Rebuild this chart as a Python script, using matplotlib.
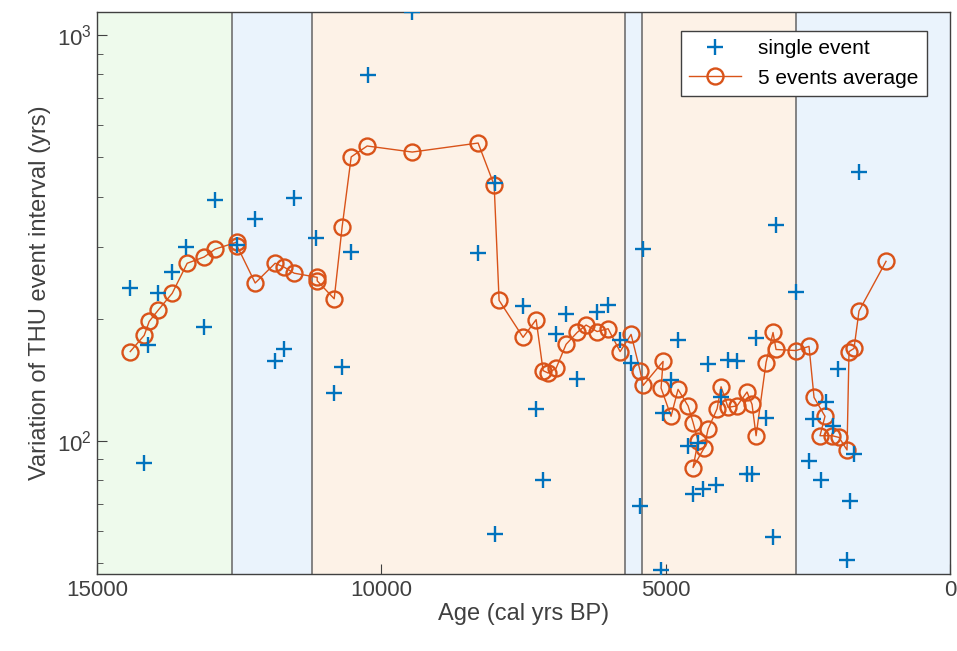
import matplotlib
matplotlib.use("Agg")
import matplotlib.pyplot as plt
from matplotlib.ticker import LogLocator, NullFormatter, LogFormatterMathtext

plt.rcParams['font.family'] = ['Liberation Sans', 'DejaVu Sans']

# single events: age (cal yrs BP), interval (yrs)
single_age = [14416, 14170, 14100, 13924, 13678, 13432, 13115, 12922, 12535, 12218,
              11867, 11708, 11532, 11146, 10530, 10689, 10829, 10231, 9457, 8298,
              7999, 7999, 7507, 6751, 6927, 6206, 6012, 6557, 7278, 7155,
              5801, 5608, 5397, 5450, 5081, 4905, 5045, 4782, 4606, 4430,
              4518, 4342, 4114, 4254, 3903, 3745, 4026, 3569, 3481, 3410,
              3235, 3112, 3059, 2707, 2479, 2408, 2180, 2057, 2268, 1969,
              1758, 1811, 1688, 1600]
single_val = [238, 88, 172, 232, 261, 300, 191, 392, 304, 352,
              157, 168, 397, 316, 292, 152, 131, 797, 1140, 290,
              432, 59, 215, 205, 183, 208, 216, 142, 120, 80,
              177, 156, 297, 69, 48, 141, 117, 177, 97, 99,
              74, 76, 78, 155, 158, 157, 128, 83, 83, 179,
              114, 58, 340, 233, 89, 113, 125, 109, 80, 150,
              71, 51, 93, 460]

# 5 events running average
avg_age = [14416, 14170, 14082, 13924, 13678, 13414, 13115, 12922, 12535, 12535,
           12218, 11867, 11709, 11532, 11128, 11128, 10829, 10689, 10530, 10249,
           9457, 8298, 8016, 7929, 7507, 7278, 7155, 7067, 6927, 6751,
           6557, 6399, 6206, 6012, 5801, 5608, 5450, 5397, 5045, 5081,
           4905, 4782, 4606, 4518, 4430, 4518, 4325, 4254, 4096, 4026,
           3903, 3745, 3569, 3481, 3410, 3235, 3112, 3059, 2707, 2479,
           2391, 2198, 2286, 2075, 1951, 1811, 1776, 1688, 1600, 1125]
avg_val = [166, 182, 197, 210, 231, 274, 284, 297, 309, 302,
           245, 274, 268, 259, 253, 248, 224, 337, 501, 533,
           515, 542, 427, 222, 180, 199, 149, 147, 151, 173,
           185, 193, 186, 189, 166, 183, 149, 137, 157, 135,
           115, 134, 122, 111, 100, 86, 96, 107, 120, 136,
           121, 122, 132, 123, 103, 156, 185, 168, 167, 171,
           128, 115, 103, 103, 102, 95, 166, 169, 209, 277]

# climate periods
period_edges = [15000, 12626, 11220, 5716, 5417, 2710, 0]
period_colors = ['#EEFAEC', '#EAF3FC', '#FDF2E7', '#EAF3FC', '#FDF2E7', '#EAF3FC']

fig = plt.figure(figsize=(9.57, 6.51), dpi=100)
ax = fig.add_axes([97/957, 77/651, 853/957, 562/651])

for i, c in enumerate(period_colors):
    ax.axvspan(period_edges[i], period_edges[i + 1], color=c, zorder=0, lw=0)
for e in period_edges[1:-1]:
    ax.axvline(e, color='#707070', lw=1.2, zorder=1)

ax.plot(single_age, single_val, '+', color='#0072BD', ms=11, mew=1.7,
        ls='none', label='single event', zorder=3)
ax.plot(avg_age, avg_val, '-o', color='#D95319', lw=1.0, ms=11.5, mew=1.7,
        mfc='none', label='5 events average', zorder=2)

ax.set_yscale('log')
ax.set_xlim(15000, 0)
ax.set_ylim(47, 1140)
ax.set_xticks([15000, 10000, 5000, 0])
ax.yaxis.set_major_locator(LogLocator(base=10))
ax.yaxis.set_major_formatter(LogFormatterMathtext())
ax.yaxis.set_minor_locator(LogLocator(base=10, subs=range(2, 10)))
ax.yaxis.set_minor_formatter(NullFormatter())
ax.tick_params(direction='in', which='both', labelsize=16, colors='#404040',
               top=False, right=False, pad=4)
ax.tick_params(which='major', length=7)
ax.tick_params(which='minor', length=4)
for s in ax.spines.values():
    s.set_color('#404040')
    s.set_linewidth(1.0)

ax.set_xlabel('Age (cal yrs BP)', fontsize=17, color='#404040', labelpad=2)
ax.set_ylabel('Variation of THU event interval (yrs)', fontsize=17, color='#404040')

leg = ax.legend(loc='upper right', bbox_to_anchor=(0.985, 0.985), fontsize=15,
                fancybox=False, framealpha=1, edgecolor='#404040',
                facecolor='white', handlelength=2.5)
leg.get_frame().set_linewidth(1.0)

fig.savefig('out.png', dpi=100)
